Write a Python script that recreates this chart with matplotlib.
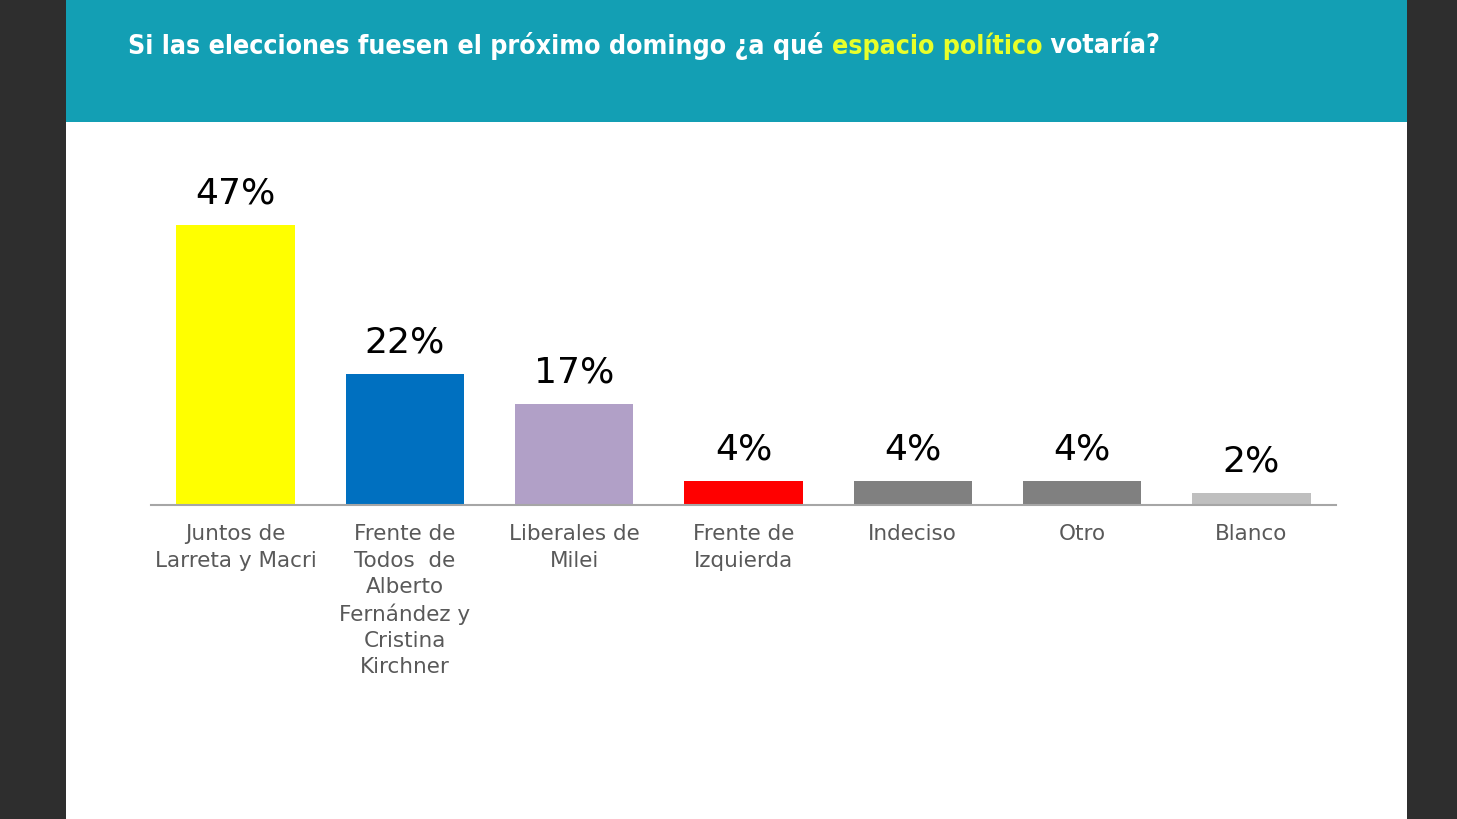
import matplotlib.pyplot as plt
from matplotlib.patches import Rectangle

# datos de la encuesta
categorias = ['Juntos de\nLarreta y Macri',
              'Frente de\nTodos  de\nAlberto\nFernández y\nCristina\nKirchner',
              'Liberales de\nMilei',
              'Frente de\nIzquierda',
              'Indeciso',
              'Otro',
              'Blanco']
valores = [47, 22, 17, 4, 4, 4, 2]
etiquetas = ['47%', '22%', '17%', '4%', '4%', '4%', '2%']
colores = ['#FFFF00', '#0070C0', '#B1A0C7', '#FF0000', '#808080', '#808080', '#BFBFBF']

W, H = 1457, 819
fig = plt.figure(figsize=(W / 100, H / 100), dpi=100)
fig.patch.set_facecolor('#2e2e2e')

# panel blanco y franja de título
fig.add_artist(Rectangle((66 / W, 0), (1407 - 66) / W, 1, transform=fig.transFigure,
                         facecolor='white', edgecolor='none', zorder=0))
fig.add_artist(Rectangle((66 / W, 1 - 122 / H), (1407 - 66) / W, 122 / H,
                         transform=fig.transFigure, facecolor='#139FB4',
                         edgecolor='none', zorder=1))

# título en tres partes (blanco / amarillo / blanco)
partes = [('Si las elecciones fuesen el próximo domingo ¿a qué ', 'white'),
          ('espacio político', '#E8FF2A'),
          (' votaría?', 'white')]
renderer = fig.canvas.get_renderer()
x = 128
for txt, col in partes:
    t = fig.text(x / W, 1 - 46 / H, txt, color=col, fontsize=19.2, fontweight='bold',
                 family='DejaVu Sans', va='center', ha='left', zorder=3,
                 fontstretch='condensed')
    bb = t.get_window_extent(renderer=renderer)
    x += bb.width

# ejes del gráfico
y_base = 505
y_top = 145
ax = fig.add_axes([151 / W, 1 - y_base / H, (1336 - 151) / W, (y_base - y_top) / H])
ax.set_facecolor('none')
pos = list(range(len(valores)))
ax.bar(pos, valores, width=0.70, color=colores, zorder=2)
ax.set_xlim(-0.5, 6.5)
ax.set_ylim(0, (y_base - y_top) / 5.96)

for p, v, e in zip(pos, valores, etiquetas):
    ax.text(p, v + 2.45, e, ha='center', va='bottom', fontsize=26,
            family='DejaVu Sans', color='black')

for s in ['top', 'right', 'left']:
    ax.spines[s].set_visible(False)
ax.spines['bottom'].set_color('#A6A6A6')
ax.spines['bottom'].set_linewidth(1.5)
ax.set_yticks([])
ax.set_xticks(pos)
ax.set_xticklabels(categorias, fontsize=15.5, color='#595959', family='DejaVu Sans',
                   linespacing=1.38, va='top')
ax.tick_params(axis='x', length=0, pad=14)

fig.savefig('out.png', dpi=100, facecolor=fig.get_facecolor())
